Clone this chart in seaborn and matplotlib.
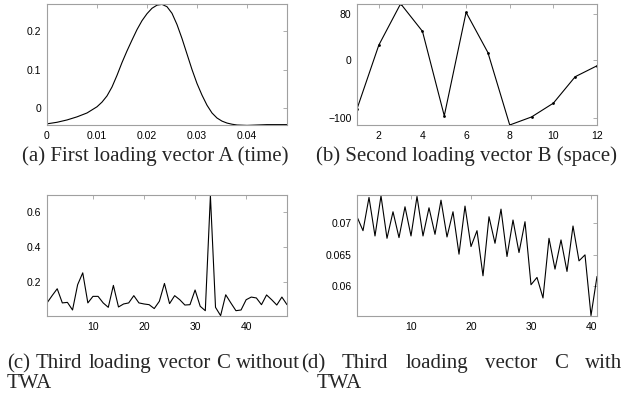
import numpy as np
import pandas as pd
import seaborn as sns
import matplotlib.pyplot as plt

sns.set_style('white')

# (a) first loading vector A (time)
a_x = [0.000, 0.002, 0.004, 0.006, 0.008, 0.010, 0.011, 0.012, 0.013, 0.014,
       0.015, 0.016, 0.017, 0.018, 0.019, 0.020, 0.021, 0.022, 0.023, 0.024,
       0.025, 0.026, 0.027, 0.028, 0.029, 0.030, 0.031, 0.032, 0.033, 0.034,
       0.035, 0.036, 0.037, 0.038, 0.040, 0.042, 0.044, 0.046, 0.048]
a_y = [-0.040, -0.036, -0.030, -0.022, -0.012, 0.004, 0.016, 0.032, 0.055, 0.085,
       0.118, 0.148, 0.176, 0.203, 0.226, 0.244, 0.258, 0.266, 0.268, 0.262,
       0.245, 0.216, 0.180, 0.140, 0.100, 0.064, 0.034, 0.008, -0.012, -0.025,
       -0.033, -0.038, -0.041, -0.043, -0.044, -0.043, -0.042, -0.042, -0.042]

# (b) second loading vector B (space)
b_x = list(range(1, 13))
b_y = [-85, 26, 98, 50, -97, 83, 13, -113, -99, -75, -29, -10]

# (c) third loading vector C without TWA
c_y = [0.084, 0.125, 0.164, 0.084, 0.087, 0.044, 0.187, 0.254, 0.084, 0.121,
       0.121, 0.084, 0.059, 0.183, 0.061, 0.078, 0.084, 0.125, 0.084, 0.078,
       0.074, 0.052, 0.093, 0.194, 0.080, 0.125, 0.102, 0.072, 0.074, 0.157,
       0.065, 0.040, 0.690, 0.059, 0.012, 0.130, 0.084, 0.040, 0.044, 0.102,
       0.117, 0.112, 0.074, 0.129, 0.102, 0.072, 0.117, 0.074]
c_x = list(range(1, len(c_y) + 1))

# (d) third loading vector C with TWA
d_y = [0.07105, 0.06884, 0.07411, 0.06800, 0.07437, 0.06763, 0.07184, 0.06774,
       0.07263, 0.06800, 0.07426, 0.06800, 0.07247, 0.06826, 0.07368, 0.06784,
       0.07184, 0.06511, 0.07274, 0.06632, 0.06884, 0.06168, 0.07105, 0.06684,
       0.07226, 0.06474, 0.07053, 0.06537, 0.07026, 0.06026, 0.06142, 0.05816,
       0.06763, 0.06274, 0.06737, 0.06237, 0.06958, 0.06405, 0.06500, 0.05537,
       0.06158]
d_x = list(range(1, len(d_y) + 1))

W, H = 626, 396
fig = plt.figure(figsize=(W / 100, H / 100), dpi=100)


def add_ax(left, top, right, bottom):
    return fig.add_axes([left / W, 1 - bottom / H, (right - left) / W, (bottom - top) / H])


def style(ax):
    for s in ax.spines.values():
        s.set_color('#a0a0a0')
        s.set_linewidth(0.8)
    ax.tick_params(direction='in', length=3, width=0.6, color='#a0a0a0',
                   top=True, right=True, labelsize=7.5, pad=4,
                   labelcolor='black')
    ax.set_xlabel('')
    ax.set_ylabel('')
    for t in ax.get_xticklabels() + ax.get_yticklabels():
        t.set_family('Liberation Sans')


ax_a = add_ax(47, 4, 287, 125)
sns.lineplot(x=a_x, y=a_y, ax=ax_a, color='black', linewidth=0.8)
ax_a.set_xlim(0, 0.048)
ax_a.set_ylim(-0.043, 0.269)
ax_a.set_xticks([0, 0.01, 0.02, 0.03, 0.04])
ax_a.set_xticklabels(['0', '0.01', '0.02', '0.03', '0.04'])
ax_a.set_yticks([0, 0.1, 0.2])
ax_a.set_yticklabels(['0', '0.1', '0.2'])
style(ax_a)

ax_b = add_ax(357, 4, 597, 125)
sns.lineplot(x=b_x, y=b_y, ax=ax_b, color='black', linewidth=0.8,
             marker='o', markersize=2, markeredgewidth=0)
ax_b.set_xlim(1, 12)
ax_b.set_ylim(-113, 97.5)
ax_b.set_xticks([2, 4, 6, 8, 10, 12])
ax_b.set_yticks([-100, 0, 80])
style(ax_b)

ax_c = add_ax(47, 195, 287, 316)
sns.lineplot(x=c_x, y=c_y, ax=ax_c, color='black', linewidth=0.8)
ax_c.set_xlim(1, 48)
ax_c.set_ylim(0.01, 0.694)
ax_c.set_xticks([10, 20, 30, 40])
ax_c.set_yticks([0.2, 0.4, 0.6])
ax_c.set_yticklabels(['0.2', '0.4', '0.6'])
style(ax_c)

ax_d = add_ax(357, 195, 597, 316)
sns.lineplot(x=d_x, y=d_y, ax=ax_d, color='black', linewidth=0.8)
ax_d.set_xlim(1, 41)
ax_d.set_ylim(0.0553, 0.0745)
ax_d.set_xticks([10, 20, 30, 40])
ax_d.set_yticks([0.06, 0.065, 0.07])
ax_d.set_yticklabels(['0.06', '0.065', '0.07'])
style(ax_d)

# captions
cap = dict(family='Liberation Serif', fontsize=15, va='baseline')
fig.text(155 / W, 1 - 161 / H, '(a) First loading vector A (time)', ha='center', **cap)
fig.text(467 / W, 1 - 161 / H, '(b) Second loading vector B (space)', ha='center', **cap)

renderer = fig.canvas.get_renderer()


def justify(words, x0, x1, base):
    # spread the words of one line evenly between x0 and x1 (pixels)
    texts = [fig.text(0, 1 - base / H, w, ha='left', **cap) for w in words]
    widths = [t.get_window_extent(renderer).width for t in texts]
    gap = (x1 - x0 - sum(widths)) / (len(words) - 1)
    x = x0
    for t, w in zip(texts, widths):
        t.set_x(x / W)
        x += w + gap


justify(['(c)', 'Third', 'loading', 'vector', 'C', 'without'], 7, 300, 368)
justify(['(d)', 'Third', 'loading', 'vector', 'C', 'with'], 301, 622, 368)
fig.text(7 / W, 1 - 388 / H, 'TWA', ha='left', **cap)
fig.text(317 / W, 1 - 388 / H, 'TWA', ha='left', **cap)

fig.savefig('out.png', dpi=100)
